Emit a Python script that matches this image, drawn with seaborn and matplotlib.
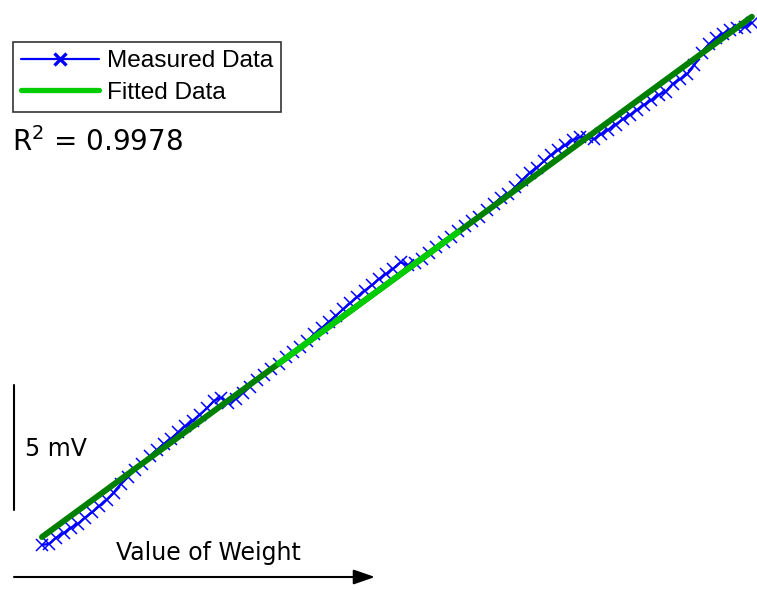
import numpy as np
import pandas as pd
import matplotlib
matplotlib.use("Agg")
import matplotlib.pyplot as plt
import seaborn as sns
from matplotlib.lines import Line2D

# ---- data ----
weight = np.arange(100)
measured_mv = [
    -0.32, -0.27, -0.02, 0.15, 0.36, 0.53, 0.78, 0.99, 1.24, 1.49,
    1.78, 2.11, 2.40, 2.69, 2.94, 3.23, 3.48, 3.73, 3.94, 4.19,
    4.44, 4.65, 4.90, 5.15, 5.45, 5.58, 5.35, 5.52, 5.77, 6.02,
    6.27, 6.48, 6.73, 6.94, 7.19, 7.40, 7.61, 7.86, 8.11, 8.36,
    8.61, 8.86, 9.11, 9.36, 9.61, 9.86, 10.07, 10.32, 10.53, 10.74,
    10.99, 10.88, 10.97, 11.14, 11.35, 11.60, 11.81, 12.02, 12.23, 12.44,
    12.65, 12.82, 13.07, 13.32, 13.57, 13.74, 13.99, 14.28, 14.57, 14.78,
    15.03, 15.28, 15.49, 15.67, 15.87, 16.00, 16.02, 15.91, 16.12, 16.29,
    16.50, 16.71, 16.88, 17.09, 17.30, 17.47, 17.68, 17.81, 18.14, 18.31,
    18.52, 18.89, 19.38, 19.71, 19.96, 20.13, 20.30, 20.35, 20.40, 20.57,
]
fit_x = [0, 33, 58, 99]
fit_mv = [0.0, 6.94, 12.19, 20.81]
r_squared = "0.9978"
labels = ["Measured Data", "Fitted Data"]

sns.set_style("white")
plt.rcParams["font.family"] = ["DejaVu Sans"]
plt.rcParams["text.color"] = "black"

W, H, DPI = 757, 590, 100
fig = plt.figure(figsize=(W / DPI, H / DPI), dpi=DPI)
ax = fig.add_axes([0, 0, 1, 1])
ax.set_axis_off()

px_per_x = 7.17
px_per_mv = 25.0
x0_px, y0_px = 42, 537
ax.set_xlim(-x0_px / px_per_x, (W - x0_px) / px_per_x)
ax.set_ylim((y0_px - H) / px_per_mv, y0_px / px_per_mv)

df_meas = pd.DataFrame({"w": weight, "v": measured_mv})
sns.lineplot(data=df_meas, x="w", y="v", ax=ax, color="#0000ff", lw=1.6,
             marker="x", markersize=8.5, markeredgewidth=1.1,
             markeredgecolor="#0000ff", zorder=3, legend=False)

dark_green = "#008000"
bright_green = "#00cc00"
df_fit_all = pd.DataFrame({"w": [fit_x[0], fit_x[-1]], "v": [fit_mv[0], fit_mv[-1]]})
sns.lineplot(data=df_fit_all, x="w", y="v", ax=ax, color=dark_green, lw=4.3,
             zorder=4, legend=False)
df_fit_mid = pd.DataFrame({"w": fit_x[1:3], "v": fit_mv[1:3]})
sns.lineplot(data=df_fit_mid, x="w", y="v", ax=ax, color=bright_green, lw=4.3,
             zorder=5, legend=False)

handles = [
    Line2D([], [], color="#0000ff", lw=1.6, marker="x", markersize=8.5,
           markeredgewidth=2.4),
    Line2D([], [], color=bright_green, lw=3.8),
]
leg = fig.legend(handles, labels, loc="upper left",
                 bbox_to_anchor=(13 / W, 1 - 42 / H), borderaxespad=0,
                 prop={"family": "Liberation Sans", "size": 17.6},
                 frameon=True, fancybox=False, handlelength=3.2,
                 handletextpad=0.3, labelspacing=0.38, borderpad=0.33)
leg.get_frame().set_edgecolor("black")
leg.get_frame().set_linewidth(1.2)
for t in leg.get_texts():
    t.set_color("black")

fig.text(12 / W, 1 - 142 / H, "R$^2$ = " + r_squared, fontsize=20,
         ha="left", va="center", color="black")

# scale bar 5 mV
fig.add_artist(Line2D([14 / W, 14 / W], [1 - 385 / H, 1 - 510 / H],
                      color="black", lw=1.5))
fig.text(25 / W, 1 - 449 / H, "5 mV", fontsize=17, ha="left", va="center",
         color="black")

# weight arrow
fig.text(208 / W, 1 - 553 / H, "Value of Weight", fontsize=17, ha="center",
         va="center", color="black")
ax.annotate("", xy=(375 / W, 1 - 577 / H), xytext=(14 / W, 1 - 577 / H),
            xycoords="figure fraction", textcoords="figure fraction",
            arrowprops=dict(arrowstyle="-|>,head_length=1.3,head_width=0.45",
                            color="black", lw=1.5, shrinkA=0, shrinkB=0))

fig.savefig("out.png", dpi=DPI)
